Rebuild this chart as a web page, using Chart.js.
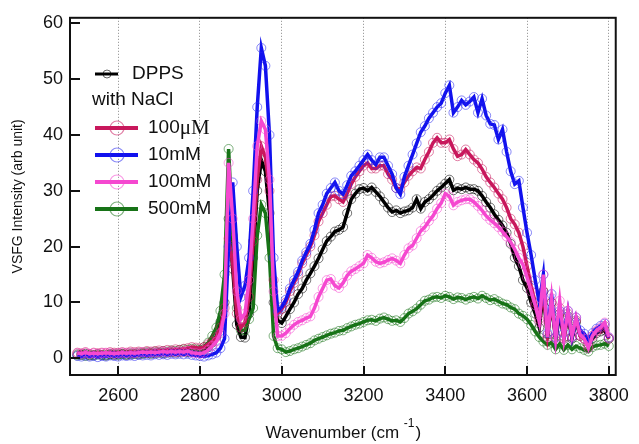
<!DOCTYPE html>
<html>
<head>
<meta charset="utf-8">
<script src="https://cdn.jsdelivr.net/npm/chart.js@4.4.1/dist/chart.umd.min.js"></script>
<style>
  html, body { margin: 0; padding: 0; background: #fff; }
  #wrap { width: 639px; height: 444px; }
</style>
</head>
<body>
<div id="wrap"><canvas id="sfgChart" width="639" height="444"></canvas></div>
<script>
// wavenumber grid (cm-1)
const wavenumbers = [
  2500,2510,2520,2530,2540,2550,2560,2570,2580,2590,2600,2610,2620,2630,2640,2650,2660,2670,2680,2690,
  2700,2710,2720,2730,2740,2750,2760,2770,2780,2790,2800,2810,2820,2830,2840,2850,2860,2870,2880,2890,
  2900,2910,2920,2930,2940,2950,2960,2970,2980,2990,3000,3010,3020,3030,3040,3050,3060,3070,3080,3090,
  3100,3110,3120,3130,3140,3150,3160,3170,3180,3190,3200,3210,3220,3230,3240,3250,3260,3270,3280,3290,
  3300,3310,3320,3330,3340,3350,3360,3370,3380,3390,3400,3410,3420,3430,3440,3450,3460,3470,3480,3490,
  3500,3510,3520,3530,3540,3550,3560,3570,3580,3590,3600,3610,3620,3630,3640,3650,3660,3670,3680,3690,
  3700,3710,3720,3730,3740,3750,3760,3770,3780,3790,3800
];

const dpps = [
  0.7,0.6,0.8,0.5,0.6,0.7,0.6,0.5,0.7,0.6, 0.7,0.8,0.6,0.7,0.8,0.7,0.8,0.9,0.8,0.9,
  1.0,0.9,1.0,1.1,1.0,1.1,1.2,1.1,1.3,1.2,
  1.3,1.6,2.0,2.8,4.0,6.5,10,25,16,6, 3.8,3.7,8,18,30,35.5,33.5,26,10,6.8,
  6.3,7.5,8.8,10,11.5,12.5,14,15.2,16.5,17.9, 19.5,21,21.8,22.7,23,23.5,26,28.5,29.5,30.3,
  30.5,30,30.6,29.8,29,28,27,26.2,26.5,26,
  26.3,26.5,27,28.5,26.8,28,28.5,29.2,30,30.6, 31.3,32,30.1,30.5,30.3,30.6,30.3,30.3,30,29.1,
  28,27,25.8,24.8,23.8,22.5,20.5,18,16.5,14,
  12.6,10,8,5.5,12,3.5,10,3.2,8,3.5, 7.5,3.5,6.5,4,3.5,2.5,3.5,4.5,4.8,5,3.5
];
const nacl100uM = [
  1.0,0.9,1.1,0.8,1.0,0.9,1.0,0.9,1.1,1.0, 1.0,1.1,1.0,1.2,1.1,1.2,1.1,1.3,1.2,1.3,
  1.4,1.3,1.5,1.4,1.6,1.5,1.7,1.8,2.0,1.9,
  1.8,2.0,2.5,3.0,3.8,5.5,9,21.5,17,8, 5.5,6.5,11,21,32,38,36,30,14,8,
  8.8,10,12,13.5,15,17,18.5,20,22,24.5, 26,27.5,29,29.1,28.5,28,29.5,31.2,32.5,33.5,
  34.5,35,34,34,34.5,34.5,33,32,30.5,30.3,
  31.5,32.7,33.5,34.2,34,35.6,37,38.6,39.5,38.6, 38.6,39.2,37.5,36.2,36.5,37.4,36.5,35.6,35,33.9,
  32.5,31.5,30.6,29.5,28.5,27,25,24,22.5,20,
  16.5,13,10,7,12,4.2,10,3.8,9,3.8, 8,3.8,6.8,4,3.5,2.2,4,4.8,5.2,5.8,3.5
];
const nacl10mM = [
  0.4,0.3,0.5,0.3,0.4,0.2,0.4,0.3,0.5,0.4, 0.3,0.5,0.4,0.5,0.4,0.6,0.5,0.6,0.5,0.7,
  0.6,0.7,0.6,0.8,0.7,0.8,0.7,0.8,0.6,0.5,
  0.4,0.3,0.5,0.7,1.0,1.8,3.5,20,31.5,20, 11,13,18,30,45,55.6,52.4,40,18,8.5,
  9.2,10.5,12.5,14,15.5,17.5,19,20.5,23,26, 27.5,29.5,30.5,31.5,30,29.4,31,32.7,33.5,34.5,
  35.5,36.5,35.5,34.7,36,36,34.5,33,30.5,29.4,
  32.5,34.5,36.5,38.5,40.5,41.6,43,44,45,45.7, 47.5,48.9,44,45,46.2,45.4,46,46.8,44,46.5,
  43.5,42,41.8,39.2,41,37,33.5,31.2,31.8,27,
  22.5,18.5,14,10,15,4.5,11.5,3.7,8.5,4.5, 8.5,3.8,7.3,5,4.4,3.2,4.5,5.3,5.8,6.2,3.7
];
const nacl100mM = [
  0.9,0.8,1.0,0.8,0.9,0.8,0.9,1.0,0.9,0.8, 0.9,1.0,0.9,1.0,0.9,1.0,1.1,1.0,1.1,1.0,
  1.1,1.2,1.1,1.2,1.1,1.2,1.1,1.3,1.0,0.9,
  0.8,1.0,1.5,2.2,3.0,4.5,8,35,25,12, 7,8,14,25,38,42.5,41,32,12,4,
  4.0,4.5,5.3,6,6.5,6.8,7.2,7.5,9,11, 12.5,14,14.2,13,12.6,13.5,14.8,15.6,16,16.5,
  17,18.5,18,17.3,17,17.2,17.6,17.9,17.5,17,
  18.5,19.7,20.2,21.5,22.8,23.5,24.6,25.5,26.8,27.8, 29.5,29,27.4,28,28.3,28.5,28.5,28,27.3,26.5,
  25.5,24.8,24.2,23.5,22.7,21.8,20.8,19.5,18,16.8,
  14.5,12,9.5,6.5,15,3.8,10.8,3.5,10.3,3.5, 8.5,4,7.3,4.2,3.5,1.8,4,5,5.5,6.4,3.8
];
const nacl500mM = [
  0.5,0.7,0.4,0.6,0.5,0.7,0.6,0.5,0.7,0.8, 0.6,0.8,0.7,0.9,0.8,1.0,0.9,1.1,1.0,1.2,
  1.1,1.3,1.2,1.4,1.3,1.5,1.6,1.5,1.7,1.6,
  1.5,2.0,2.8,4.0,5.5,8.5,15,37.5,22,9, 5,5,7,9,22,27.5,26,18,4,1.8,
  1.6,1.1,1.3,1.6,1.8,2.1,2.4,2.7,3.2,3.5, 3.8,4.1,4.4,4.6,4.9,5.0,5.4,5.7,6.0,6.2,
  6.5,6.8,6.9,6.7,7.1,7.3,7.0,6.7,6.8,6.5,
  7.2,8.0,8.4,8.9,9.6,10.3,10.5,10.9,11.0,10.8, 11.2,11.0,10.6,10.9,10.8,10.5,10.8,11.0,10.7,11.2,
  10.8,10.4,10.6,10.2,9.8,9.6,9.1,8.8,8.0,7.6,
  7.0,6.0,4.8,3.8,3.0,2.4,2.8,1.6,2.6,1.5, 2.4,1.6,2.2,1.8,1.5,1.2,2.0,2.3,2.4,2.6,2.2
];

const xTicks = [2600, 2800, 3000, 3200, 3400, 3600, 3800];
const yTicks = [0, 10, 20, 30, 40, 50, 60];

const SANS = "'Liberation Sans', Arial, sans-serif";

function toPoints(vals) {
  return vals.map((v, i) => ({ x: wavenumbers[i], y: v }));
}

function series(label, vals, color, ring, order) {
  return {
    label: label,
    data: toPoints(vals),
    borderColor: color,
    borderWidth: 3.5,
    pointRadius: 4.5,
    pointBorderWidth: 1,
    pointBorderColor: ring,
    pointBackgroundColor: "rgba(0,0,0,0)",
    tension: 0,
    order: order
  };
}

const datasets = [
  series("100mM", nacl100mM, "#f548d0", "rgba(245,72,208,0.55)", 0),
  series("10mM", nacl10mM, "#1111ee", "rgba(40,40,240,0.55)", 1),
  series("100\u03bcM", nacl100uM, "#c8185c", "rgba(200,24,92,0.55)", 2),
  series("500mM", nacl500mM, "#177317", "rgba(23,115,23,0.55)", 3),
  series("DPPS", dpps, "#000000", "rgba(0,0,0,0.55)", 4)
];

// frame, inward ticks, legend and x title
const decor = {
  id: "decor",
  afterDatasetsDraw(chart) {
    const ctx = chart.ctx;
    const a = chart.chartArea;
    const xs = chart.scales.x, ys = chart.scales.y;
    ctx.save();
    ctx.strokeStyle = "#111";
    ctx.lineWidth = 2;
    ctx.strokeRect(a.left, a.top, a.right - a.left, a.bottom - a.top);
    ys.ticks.forEach(t => {
      const y = Math.round(ys.getPixelForValue(t.value));
      ctx.beginPath(); ctx.moveTo(a.left, y); ctx.lineTo(a.left + 10, y); ctx.stroke();
    });
    xs.ticks.forEach(t => {
      const x = Math.round(xs.getPixelForValue(t.value));
      ctx.beginPath(); ctx.moveTo(x, a.bottom); ctx.lineTo(x, a.bottom - 9); ctx.stroke();
    });

    // legend
    const lx = 95;
    ctx.textBaseline = "middle";
    ctx.fillStyle = "#111";
    ctx.strokeStyle = "#000"; ctx.lineWidth = 3;
    ctx.beginPath(); ctx.moveTo(lx, 74); ctx.lineTo(lx + 23, 74); ctx.stroke();
    ctx.strokeStyle = "rgba(0,0,0,0.6)"; ctx.lineWidth = 1;
    ctx.beginPath(); ctx.arc(lx + 12, 74, 4, 0, Math.PI * 2); ctx.stroke();
    ctx.font = "19px " + SANS;
    ctx.fillText("DPPS", 132, 74);
    ctx.fillText("with NaCl", 92, 100);
    const rows = [
      { ds: datasets[2], y: 128 },
      { ds: datasets[1], y: 155 },
      { ds: datasets[0], y: 182 },
      { ds: datasets[3], y: 209 }
    ];
    rows.forEach(r => {
      ctx.strokeStyle = r.ds.borderColor; ctx.lineWidth = 4;
      ctx.beginPath(); ctx.moveTo(lx, r.y); ctx.lineTo(lx + 43, r.y); ctx.stroke();
      ctx.strokeStyle = r.ds.pointBorderColor; ctx.lineWidth = 1.2;
      ctx.beginPath(); ctx.arc(lx + 22, r.y, 7, 0, Math.PI * 2); ctx.stroke();
      ctx.fillStyle = "#111";
      if (r.ds.label === "100\u03bcM") {
        ctx.font = "19px " + SANS;
        ctx.fillText("100", 148, r.y);
        const w = ctx.measureText("100").width;
        ctx.font = "21px 'Liberation Serif', serif";
        ctx.fillText("\u03bcM", 148 + w, r.y);
      } else {
        ctx.font = "19px " + SANS;
        ctx.fillText(r.ds.label, 148, r.y);
      }
    });

    // x axis title with superscript
    const cx = (a.left + a.right) / 2;
    const base = 438;
    ctx.textBaseline = "alphabetic";
    ctx.font = "17px " + SANS;
    const main = "Wavenumber (cm ";
    const sup = "-1";
    const close = ")";
    const wMain = ctx.measureText(main).width;
    const wClose = ctx.measureText(close).width;
    ctx.font = "12px " + SANS;
    const wSup = ctx.measureText(sup).width;
    const x0 = cx - (wMain + wSup + wClose) / 2;
    ctx.font = "17px " + SANS;
    ctx.fillText(main, x0, base);
    ctx.font = "12px " + SANS;
    ctx.fillText(sup, x0 + wMain, base - 11);
    ctx.font = "17px " + SANS;
    ctx.fillText(close, x0 + wMain + wSup + 1, base);
    ctx.restore();
  }
};

new Chart(document.getElementById("sfgChart"), {
  type: "line",
  data: { datasets: datasets },
  options: {
    responsive: false,
    animation: false,
    events: [],
    layout: { padding: { left: 0, top: 13, right: 15, bottom: 0 } },
    plugins: { legend: { display: false }, tooltip: { enabled: false } },
    scales: {
      x: {
        type: "linear",
        min: 2482,
        max: 3817,
        afterFit: s => { s.height = 69; },
        afterBuildTicks: s => { s.ticks = xTicks.map(v => ({ value: v })); },
        ticks: {
          font: { family: SANS, size: 18 }, color: "#111", padding: 10, maxRotation: 0,
          callback: v => String(v)
        },
        grid: { drawTicks: false, color: "#888", lineWidth: 1 },
        border: { display: false, dash: [1, 2] }
      },
      y: {
        type: "linear",
        min: -3,
        max: 61,
        afterFit: s => { s.width = 70; },
        afterBuildTicks: s => { s.ticks = yTicks.map(v => ({ value: v })); },
        ticks: { font: { family: SANS, size: 18 }, color: "#111", padding: 7, callback: v => String(v) },
        grid: { display: false, drawTicks: false },
        border: { display: false },
        title: {
          display: true,
          text: "VSFG Intensity (arb unit)",
          font: { family: SANS, size: 14 },
          color: "#111",
          padding: { top: 10, bottom: 0 }
        }
      }
    }
  },
  plugins: [decor]
});
</script>
</body>
</html>
